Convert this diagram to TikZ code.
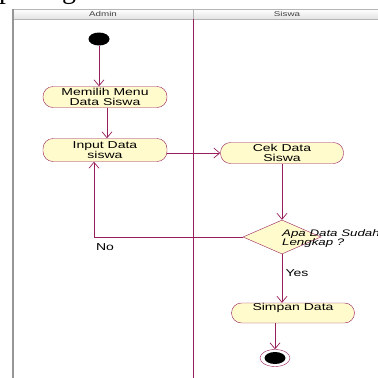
\documentclass[tikz,border=0pt]{standalone}
\usepackage{fontspec}
\setmainfont{Liberation Serif}
\newfontfamily\umlfont[FakeStretch=1.4]{Liberation Sans}
\usetikzlibrary{arrows.meta,shapes.geometric}
\definecolor{umlline}{RGB}{150,30,90}
\definecolor{umlfill}{RGB}{255,251,205}
\definecolor{lanegray}{RGB}{150,150,150}
\tikzset{
  activity/.style={draw=umlline,fill=umlfill,rounded corners=10pt,
    minimum width=124pt,minimum height=21pt,inner sep=0pt,align=center,
    font=\umlfont\fontsize{10}{10}\selectfont},
  lanehead/.style={font=\umlfont\fontsize{7}{7}\selectfont,inner sep=0pt,text=black!75},
  guard/.style={font=\umlfont\fontsize{10}{10}\selectfont,inner sep=0pt},
  flow/.style={draw=umlline,line width=0.7pt,-{Straight Barb[length=6pt,width=10pt]}},
}
\begin{document}
\begin{tikzpicture}[x=1pt,y=-1pt]
  \useasboundingbox (0,0) rectangle (378,378);
  \node[anchor=base west,font=\fontsize{28}{28}\selectfont,inner sep=0pt] (cutp) at (-1,-2) {p};
  \node[anchor=base west,font=\fontsize{28}{28}\selectfont,inner sep=0pt] (cutg) at (62,-2) {g};
  \shade[top color=white,bottom color=gray!22,draw=lanegray!70] (12,9) rectangle (193,19);
  \shade[top color=white,bottom color=gray!22,draw=lanegray!70] (193,9) rectangle (380,19);
  \node[lanehead] (adminhead) at (103,14) {Admin};
  \node[lanehead] (siswahead) at (287,14) {Siswa};
  \draw[lanegray,line width=2pt] (13,9) -- (13,378);
  \draw[umlline,line width=0.8pt] (193,19) -- (193,378);
  \node[fill=black,ellipse,minimum width=21pt,minimum height=13pt,inner sep=0pt] (start) at (99,39) {};
  \node[activity] (memilih) at (105,97) {Memilih Menu\\Data Siswa};
  \node[activity,minimum height=23pt] (input) at (105,150) {Input Data\\siswa};
  \node[activity,minimum width=123pt] (cek) at (282,153) {Cek Data\\Siswa};
  \node[diamond,draw=umlline,fill=umlfill,minimum width=78pt,minimum height=34pt,inner sep=0pt] (dia) at (282,237) {};
  \node[anchor=west,align=left,inner sep=0pt,font=\umlfont\itshape\fontsize{9.5}{9}\selectfont] (dialabel) at (282,239) {Apa Data Sudah\\Lengkap ?};
  \node[activity,minimum width=123pt,minimum height=20pt,text depth=12pt] (simpan) at (293,313) {Simpan Data};
  \node[draw=umlline,ellipse,fill=white,minimum width=30pt,minimum height=17pt,inner sep=0pt] (end) at (275,358) {};
  \node[fill=black,ellipse,minimum width=21pt,minimum height=12pt,inner sep=0pt] (endin) at (end) {};
  \node[guard] (no) at (105,247) {No};
  \node[guard] (yes) at (297,273) {Yes};
  \begin{scope}[flow]
    \draw (start) -- (start |- memilih.north);
    \draw ([xshift=2pt]memilih.south) -- ([xshift=2pt]input.north);
    \draw (input.east |- cek) -- (cek.west);
    \draw (cek) -- (dia);
    \draw (dia.west) -| ([xshift=-11pt]input.south);
    \draw (dia) -- (dia |- simpan.north);
    \draw (simpan.south -| end) -- (end);
  \end{scope}
\end{tikzpicture}
\end{document}
